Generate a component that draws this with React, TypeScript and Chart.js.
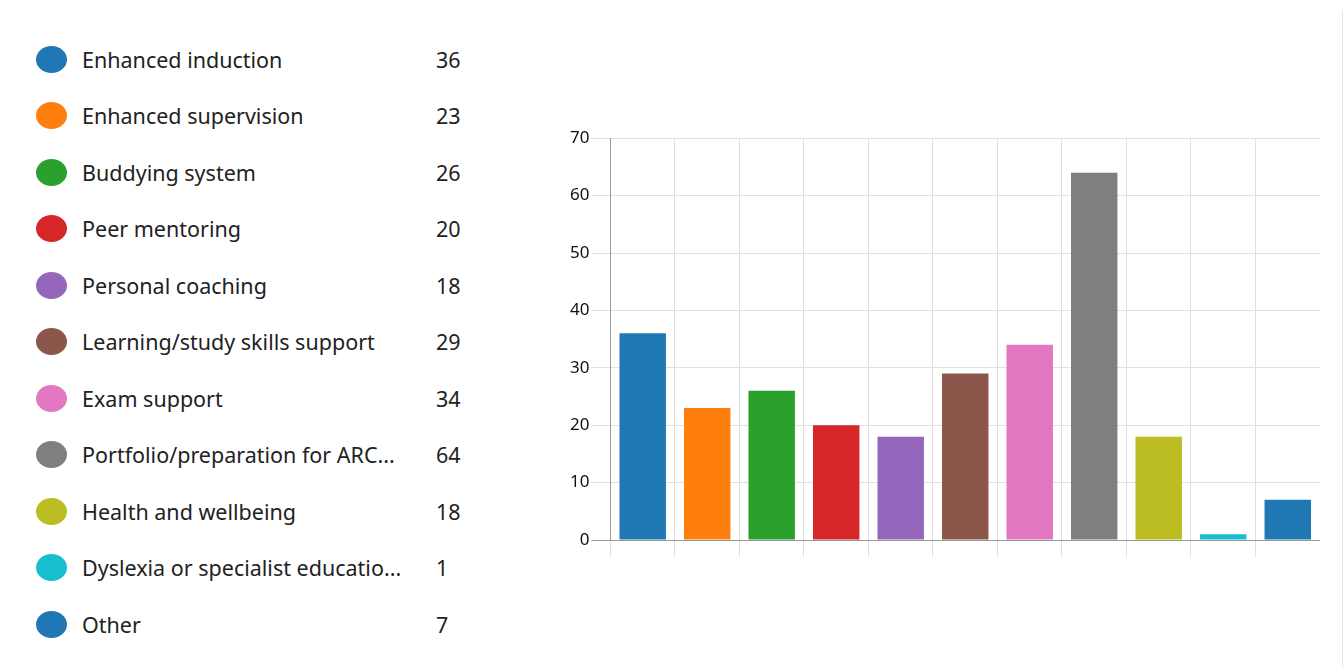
import React, { useEffect, useRef } from "react";
import { Chart, registerables } from "chart.js";

Chart.register(...registerables);

const categories = [
  "Enhanced induction",
  "Enhanced supervision",
  "Buddying system",
  "Peer mentoring",
  "Personal coaching",
  "Learning/study skills support",
  "Exam support",
  "Portfolio/preparation for ARC...",
  "Health and wellbeing",
  "Dyslexia or specialist educatio...",
  "Other",
];

const counts = [36, 23, 26, 20, 18, 29, 34, 64, 18, 1, 7];

const colors = [
  "#1f77b4",
  "#ff7f0e",
  "#2ca02c",
  "#d62728",
  "#9467bd",
  "#8c564b",
  "#e377c2",
  "#7f7f7f",
  "#bcbd22",
  "#17becf",
  "#1f77b4",
];

const yTicks = [0, 10, 20, 30, 40, 50, 60, 70];

const FONT = "'Noto Sans', 'Open Sans', sans-serif";

export default function App() {
  const canvasRef = useRef<HTMLCanvasElement | null>(null);

  useEffect(() => {
    if (!canvasRef.current) return;
    const chart = new Chart(canvasRef.current, {
      type: "bar",
      data: {
        labels: categories,
        datasets: [
          {
            data: counts,
            backgroundColor: colors,
            borderWidth: 0,
          },
        ],
      },
      options: {
        animation: false,
        responsive: true,
        maintainAspectRatio: false,
        layout: { padding: { top: 0, right: 0, bottom: 0, left: 0 } },
        plugins: {
          legend: { display: false },
          tooltip: { enabled: false },
        },
        scales: {
          x: {
            grid: {
              display: true,
              offset: true,
              color: "#dedede",
              lineWidth: 1,
              tickLength: 17,
            },
            border: { display: true, color: "#999999" },
            ticks: { display: false },
          },
          y: {
            min: 0,
            max: 70,
            afterBuildTicks: (axis: any) => {
              axis.ticks = yTicks.map((v) => ({ value: v }));
            },
            grid: {
              color: (ctx: any) => (ctx.tick && ctx.tick.value === 0 ? "#999999" : "#e0e0e0"),
              lineWidth: 1,
              tickLength: 19,
            },
            border: { display: true, color: "#999999" },
            ticks: {
              color: "#111",
              padding: 2,
              font: { family: FONT, size: 17 },
            },
          },
        },
      },
    });
    return () => chart.destroy();
  }, []);

  return (
    <div
      style={{
        position: "absolute",
        left: 0,
        top: 0,
        width: 1344,
        height: 668,
        background: "#fff",
        fontFamily: FONT,
        overflow: "hidden",
      }}
    >
      <div
        style={{
          position: "absolute",
          left: 1342,
          top: 10,
          width: 1,
          height: 668,
          background: "#e6e6e6",
        }}
      />
      {categories.map((c, i) => (
        <div
          key={c + i}
          style={{
            position: "absolute",
            left: 36,
            top: 59 + i * 56.5 - 15,
            height: 30,
            width: 440,
            display: "flex",
            alignItems: "center",
          }}
        >
          <div
            style={{
              width: 31,
              height: 27,
              borderRadius: "50%",
              background: colors[i],
              flex: "0 0 auto",
            }}
          />
          <div
            style={{
              position: "absolute",
              left: 46,
              fontSize: 21.5,
              color: "#222",
              whiteSpace: "nowrap",
            }}
          >
            {c}
          </div>
          <div
            style={{
              position: "absolute",
              left: 400,
              fontSize: 21.5,
              color: "#222",
            }}
          >
            {counts[i]}
          </div>
        </div>
      ))}
      <div
        style={{
          position: "absolute",
          left: 568,
          top: 126,
          width: 752,
          height: 431,
        }}
      >
        <canvas ref={canvasRef} />
      </div>
    </div>
  );
}
